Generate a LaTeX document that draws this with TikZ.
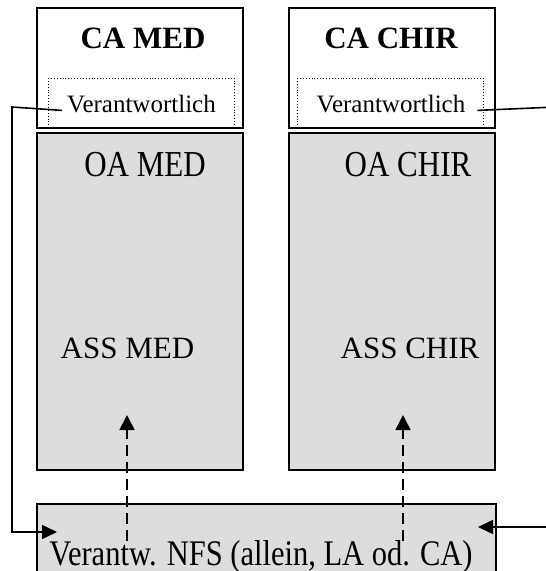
\documentclass[tikz,border=0pt]{standalone}
\usepackage{fontspec}
\setmainfont{Liberation Serif}
\usetikzlibrary{arrows.meta}
\definecolor{panelgray}{RGB}{221,221,221}
\newcommand{\tallish}[1]{\scalebox{1}[1.18]{#1}}
\begin{document}
\begin{tikzpicture}[x=1pt,y=-1pt,
  frame/.style={draw, line width=1.5pt, inner sep=0pt, anchor=north west},
  headbox/.style={frame, fill=white, minimum width=206pt, minimum height=120pt},
  staffbox/.style={frame, fill=panelgray, minimum width=206pt, minimum height=337pt},
  dutybox/.style={draw, dotted, line width=0.9pt, inner sep=0pt, anchor=north west,
                  minimum width=186pt, minimum height=49pt},
  bigtext/.style={anchor=base, inner sep=0pt, font=\fontsize{31}{31}\selectfont},
  headtext/.style={bigtext, font=\fontsize{31}{31}\selectfont\bfseries},
  dutytext/.style={anchor=base, inner ysep=0pt, inner xsep=5pt, font=\fontsize{25}{25}\selectfont},
  link/.style={draw, line width=1.6pt, -{Triangle[length=15pt,width=14pt]}},
  uplink/.style={draw, line width=1.6pt, dash pattern=on 11pt off 6pt,
                 -{Triangle[length=15pt,width=15pt]}}
]
\useasboundingbox (0,0) rectangle (546,571);
\clip (0,0) rectangle (546,571);

% head of department boxes
\node[headbox] (camedbox) at (36,7) {};
\node[headbox] (cachirbox) at (288,7) {};
\node[dutybox] (dutymed) at (48,78) {};
\node[dutybox] (dutychir) at (297,78) {};
\node[headtext] (camed) at (143,48.5) {CA MED};
\node[headtext] (cachir) at (391,48.5) {CA CHIR};
\node[dutytext] (vl) at (141.5,112.7) {Verantwortlich};
\node[dutytext] (vr) at (391,112.7) {Verantwortlich};

% staff panels
\node[staffbox] (medpanel) at (36,132) {};
\node[staffbox] (chirpanel) at (288,132) {};
\node[bigtext] (oamed) at (145,176.5) {\tallish{OA MED}};
\node[bigtext] (oachir) at (408,176.5) {\tallish{OA CHIR}};
\node[bigtext] (assmed) at (127.5,358) {ASS MED};
\node[bigtext] (asschir) at (410,358) {ASS CHIR};

% emergency duty box
\node[frame, fill=panelgray, minimum width=459pt, minimum height=100pt] (nfsbox) at (36,503) {};
\node[bigtext, font=\fontsize{30.5}{30.5}\selectfont] (nfs) at (261,565) {\tallish{Verantw. NFS (allein, LA od. CA)}};

% connectors
\coordinate (leftin) at (57,532);
\coordinate (rightin) at (478,527);
\coordinate (medup) at (127,415);
\coordinate (chirup) at (403,415);
\coordinate (medfoot) at (127,541);
\coordinate (chirfoot) at (403,541);

\draw[link] (vl.mid west) -- (12,107) |- (leftin);
\draw[link] ([xshift=7pt]vr.mid east) -- (556,107) |- (rightin);
\draw[uplink] (medfoot) -- (medup);
\draw[uplink] (chirfoot) -- (chirup);
\end{tikzpicture}
\end{document}
